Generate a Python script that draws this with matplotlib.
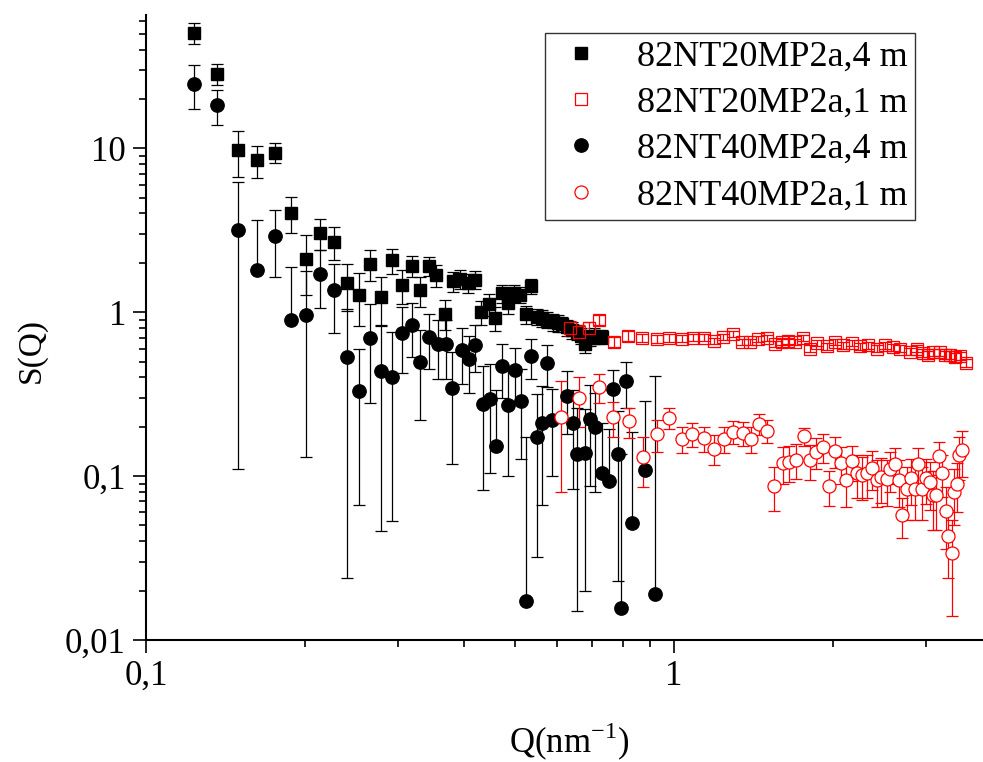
import numpy as np
import matplotlib
matplotlib.use("Agg")
import matplotlib.pyplot as plt
from matplotlib.ticker import LogLocator, FuncFormatter, NullFormatter

plt.rcParams['font.family'] = ['Liberation Serif', 'DejaVu Serif']
plt.rcParams['mathtext.fontset'] = 'custom'
plt.rcParams['mathtext.rm'] = 'Liberation Serif'

# 82NT20MP2a, 4 m  (black filled squares)
q_20_4 = [0.1233, 0.1365, 0.1492, 0.162, 0.1753, 0.1883, 0.201, 0.2138, 0.2273, 0.2399,
          0.2528, 0.266, 0.279, 0.292, 0.305, 0.3185, 0.331, 0.344, 0.355, 0.368,
          0.381, 0.394, 0.407, 0.420, 0.432, 0.446, 0.459, 0.472, 0.485, 0.498,
          0.511, 0.524, 0.537, 0.55, 0.563, 0.576, 0.589, 0.602, 0.615, 0.628,
          0.641, 0.654, 0.667, 0.680, 0.693, 0.706, 0.72, 0.73]
s_20_4 = [50.5, 28.5, 9.72, 8.45, 9.41, 4.03, 2.11, 3.04, 2.69, 1.50,
          1.28, 1.96, 1.24, 2.07, 1.46, 1.91, 1.36, 1.91, 1.68, 0.98,
          1.55, 1.60, 1.50, 1.58, 1.00, 1.12, 0.92, 1.30, 1.13, 1.31,
          1.28, 0.97, 1.44, 0.94, 0.92, 0.90, 0.87, 0.86, 0.85, 0.81,
          0.78, 0.76, 0.72, 0.64, 0.70, 0.72, 0.71, 0.71]
e_20_4 = [7.5, 4.2, 3.05, 1.9, 1.3, 1.0, 0.84, 0.66, 0.6, 0.48,
          0.46, 0.42, 0.40, 0.37, 0.34, 0.28, 0.29, 0.25, 0.25, 0.2,
          0.22, 0.21, 0.2, 0.2, 0.17, 0.17, 0.15, 0.17, 0.15, 0.16,
          0.15, 0.12, 0.15, 0.11, 0.11, 0.1, 0.1, 0.1, 0.09, 0.09,
          0.09, 0.08, 0.08, 0.08, 0.08, 0.08, 0.07, 0.07]

# 82NT20MP2a, 1 m  (red open squares)
q_20_1 = [0.635, 0.661, 0.69, 0.72, 0.77, 0.82, 0.87, 0.927, 0.98, 1.035,
          1.087, 1.14, 1.19, 1.24, 1.295, 1.344, 1.393, 1.444, 1.502, 1.554,
          1.60, 1.646, 1.695, 1.758, 1.81, 1.863, 1.946, 2.018, 2.092, 2.171,
          2.251, 2.333, 2.42, 2.509, 2.602, 2.679, 2.799, 2.883, 2.967, 3.032,
          3.099, 3.19, 3.26, 3.33, 3.41, 3.48, 3.57]
s_20_1 = [0.80, 0.76, 0.80, 0.90, 0.66, 0.72, 0.70, 0.69, 0.70, 0.69,
          0.70, 0.70, 0.67, 0.71, 0.74, 0.66, 0.66, 0.69, 0.70, 0.64,
          0.66, 0.67, 0.66, 0.70, 0.60, 0.65, 0.62, 0.66, 0.63, 0.65,
          0.62, 0.63, 0.60, 0.63, 0.61, 0.60, 0.575, 0.60, 0.565, 0.55,
          0.57, 0.57, 0.55, 0.55, 0.53, 0.54, 0.49]
e_20_1 = [0.08, 0.07, 0.07, 0.06, 0.05, 0.05, 0.04, 0.04, 0.04, 0.035,
          0.035, 0.035, 0.03, 0.03, 0.03, 0.03, 0.03, 0.03, 0.03, 0.03,
          0.03, 0.03, 0.03, 0.03, 0.03, 0.03, 0.03, 0.03, 0.03, 0.03,
          0.03, 0.03, 0.03, 0.03, 0.03, 0.03, 0.03, 0.03, 0.03, 0.03,
          0.03, 0.03, 0.03, 0.03, 0.03, 0.03, 0.03]

# 82NT40MP2a, 4 m  (black filled circles)
q_40_4 = [0.1233, 0.1365, 0.1492, 0.162, 0.1753, 0.1883, 0.201, 0.2138, 0.2273, 0.2399,
          0.2532, 0.266, 0.279, 0.292, 0.305, 0.3185, 0.331, 0.344, 0.357, 0.370,
          0.38, 0.396, 0.409, 0.42, 0.434, 0.448, 0.461, 0.473, 0.485, 0.50,
          0.513, 0.524, 0.537, 0.55, 0.563, 0.576, 0.588, 0.626, 0.643, 0.655,
          0.68, 0.694, 0.708, 0.73, 0.755, 0.768, 0.782, 0.793, 0.81, 0.834,
          0.88, 0.92]
s_40_4 = [24.8, 18.3, 3.16, 1.80, 2.91, 0.894, 0.96, 1.72, 1.36, 0.534,
          0.331, 0.70, 0.436, 0.403, 0.748, 0.83, 0.50, 0.71, 0.64, 0.64,
          0.345, 0.585, 0.52, 0.63, 0.277, 0.294, 0.153, 0.47, 0.27, 0.445,
          0.288, 0.0173, 0.54, 0.174, 0.21, 0.49, 0.22, 0.31, 0.21, 0.137,
          0.139, 0.224, 0.20, 0.105, 0.093, 0.34, 0.137, 0.0156, 0.38, 0.052,
          0.109, 0.019]
e_40_4 = [7.5, 4.35, 3.05, 1.87, 1.28, 0.99, 0.83, 0.66, 0.61, 0.51,
          0.264, 0.42, 0.39, 0.35, 0.32, 0.30, 0.28, 0.26, 0.25, 0.25,
          0.226, 0.22, 0.2, 0.2, 0.195, 0.19, 0.18, 0.17, 0.17, 0.16,
          0.16, 0.155, 0.15, 0.142, 0.143, 0.14, 0.12, 0.13, 0.126, 0.122,
          0.119, 0.137, 0.12, 0.105, 0.1, 0.105, 0.114, 0.12, 0.12, 0.134,
          0.18, 0.39]

# 82NT40MP2a, 1 m  (red open circles)
q_40_1 = [0.61, 0.66, 0.72, 0.768, 0.823, 0.875, 0.93, 0.98, 1.035, 1.08,
          1.14, 1.19, 1.245, 1.296, 1.35, 1.40, 1.45, 1.50, 1.55, 1.61,
          1.65, 1.70, 1.76, 1.81, 1.86, 1.92, 1.97, 2.02, 2.07, 2.12,
          2.17, 2.22, 2.27, 2.32, 2.37, 2.42, 2.47, 2.53, 2.57, 2.62,
          2.67, 2.71, 2.76, 2.81, 2.86, 2.90, 2.95, 3.00, 3.05, 3.09,
          3.13, 3.18, 3.22, 3.27, 3.31, 3.36, 3.39, 3.44, 3.47, 3.52]
s_40_1 = [0.23, 0.30, 0.35, 0.229, 0.216, 0.13, 0.18, 0.227, 0.168, 0.18,
          0.17, 0.147, 0.168, 0.186, 0.183, 0.169, 0.209, 0.189, 0.087, 0.12,
          0.122, 0.126, 0.175, 0.125, 0.141, 0.151, 0.087, 0.142, 0.12, 0.095,
          0.123, 0.104, 0.101, 0.104, 0.112, 0.095, 0.099, 0.096, 0.11, 0.119,
          0.095, 0.058, 0.084, 0.097, 0.084, 0.118, 0.084, 0.098, 0.092, 0.077,
          0.077, 0.132, 0.105, 0.061, 0.043, 0.034, 0.080, 0.09, 0.134, 0.144]
e_40_1 = [0.15, 0.10, 0.07, 0.055, 0.046, 0.044, 0.04, 0.032, 0.03, 0.03,
          0.03, 0.03, 0.03, 0.03, 0.03, 0.03, 0.03, 0.03, 0.026, 0.03,
          0.03, 0.03, 0.022, 0.03, 0.03, 0.03, 0.021, 0.03, 0.03, 0.03,
          0.03, 0.03, 0.03, 0.03, 0.03, 0.03, 0.03, 0.03, 0.03, 0.03,
          0.03, 0.016, 0.03, 0.03, 0.03, 0.03, 0.03, 0.03, 0.03, 0.03,
          0.03, 0.03, 0.03, 0.025, 0.019, 0.02, 0.03, 0.03, 0.04, 0.045]

labels = ['82NT20MP2a,4 m', '82NT20MP2a,1 m', '82NT40MP2a,4 m', '82NT40MP2a,1 m']


def yerr_of(s, e):
    # lower bar is dropped when it would go below zero (log axis)
    s = np.asarray(s)
    e = np.asarray(e)
    lower = np.where(e < s, e, 0.0)
    return [lower, e]


fig = plt.figure(figsize=(9.83, 7.62), dpi=100)
ax = fig.add_axes([0.1485, 0.1601, 0.8515, 0.8202])

eb_kw = dict(linestyle='none', capsize=4.6, elinewidth=0.9, capthick=0.9)
h1 = ax.errorbar(q_20_4, s_20_4, yerr=yerr_of(s_20_4, e_20_4), marker='s', ms=8.8,
                 color='black', mfc='black', mec='black', **eb_kw)
h2 = ax.errorbar(q_20_1, s_20_1, yerr=yerr_of(s_20_1, e_20_1), marker='s', ms=8.6,
                 color='red', mfc='none', mec='red', mew=0.9, **eb_kw)
h3 = ax.errorbar(q_40_4, s_40_4, yerr=yerr_of(s_40_4, e_40_4), marker='o', ms=9.6,
                 color='black', mfc='black', mec='black', **eb_kw)
h4 = ax.errorbar(q_40_1, s_40_1, yerr=yerr_of(s_40_1, e_40_1), marker='o', ms=9.4,
                 color='red', mfc='white', mec='red', mew=0.9, **eb_kw)

ax.set_xscale('log')
ax.set_yscale('log')
ax.set_xlim(0.1, 3.85)
ax.set_ylim(0.01, 65)

comma = FuncFormatter(lambda v, p: ('%g' % v).replace('.', ','))
for axis in (ax.xaxis, ax.yaxis):
    axis.set_major_locator(LogLocator(base=10))
    axis.set_minor_locator(LogLocator(base=10, subs=np.arange(2, 10)))
    axis.set_major_formatter(comma)
    axis.set_minor_formatter(NullFormatter())

ax.spines['top'].set_visible(False)
ax.spines['right'].set_visible(False)
ax.spines['left'].set_linewidth(1.5)
ax.spines['bottom'].set_linewidth(1.5)
ax.tick_params(which='major', direction='out', length=9.4, width=1.2, labelsize=25, pad=5)
ax.tick_params(which='minor', direction='out', length=5, width=1.2)

ax.set_xlabel('Q(nm$^{\\mathrm{-1}}$)', fontsize=25)
ax.set_ylabel('S(Q)', fontsize=24)
ax.xaxis.set_label_coords(0.506, -0.13)
ax.yaxis.set_label_coords(-0.118, 0.464)

leg = ax.legend([h1[0], h2[0], h3[0], h4[0]], labels, loc='upper left',
                bbox_to_anchor=(545 / 983, 1 - 33 / 762), bbox_transform=fig.transFigure,
                fontsize=26, frameon=True, fancybox=False, numpoints=1,
                borderpad=0.2, labelspacing=0.36, handlelength=1.6, handletextpad=0.75,
                borderaxespad=0)
leg.get_frame().set_edgecolor('black')
leg.get_frame().set_linewidth(1.0)

fig.savefig('out.png', dpi=100)
